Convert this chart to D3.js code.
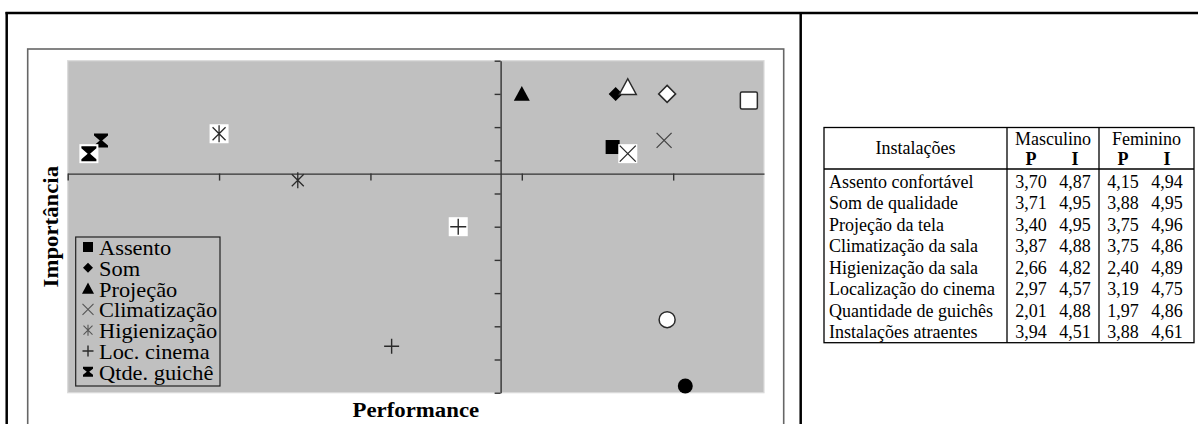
<!DOCTYPE html>
<html><head><meta charset="utf-8">
<script src="https://cdn.jsdelivr.net/npm/d3@7"></script>
<style>html,body{margin:0;padding:0;background:#fff;}svg{display:block;}</style>
</head><body>
<script>
// ---- data ----
const legendNames = ["Assento","Som","Projeção","Climatização","Higienização","Loc. cinema","Qtde. guichê"];
const tableLabels = ["Assento confortável","Som de qualidade","Projeção da tela","Climatização da sala","Higienização da sala","Localização do cinema","Quantidade de guichês","Instalações atraentes"];
const symbols = ["square","diamond","triangle","x","asterisk","plus","hourglass","circle"];
const mascP = [3.70,3.71,3.40,3.87,2.66,2.97,2.01,3.94];
const mascI = [4.87,4.95,4.95,4.88,4.82,4.57,4.88,4.51];
const femP  = [4.15,3.88,3.75,3.75,2.40,3.19,1.97,3.88];
const femI  = [4.94,4.95,4.96,4.86,4.89,4.75,4.86,4.61];
const xDomain = [1.9,4.2];
const yDomain = [4.5,5.0];
const xTicks = [1.9,2.4,2.9,3.4,3.9];
const yTicks = [4.5,4.55,4.6,4.65,4.7,4.75,4.8,4.85,4.9,4.95,5.0];
const crossP = 3.33, crossI = 4.83;
const groupNames = ["Masculino","Feminino"];
const subHeads = ["P","I"];

const W=1198,H=424;
const svg=d3.select("body").append("svg").attr("width",W).attr("height",H);
const SERIF="'Liberation Serif','Times New Roman',serif";

// outer frame
svg.append("line").attr("x1",5.5).attr("x2",W).attr("y1",13).attr("y2",13).attr("stroke","#000").attr("stroke-width",2.5);
svg.append("line").attr("x1",6.7).attr("x2",6.7).attr("y1",12).attr("y2",H).attr("stroke","#000").attr("stroke-width",2.5);
svg.append("line").attr("x1",800.7).attr("x2",800.7).attr("y1",12).attr("y2",H).attr("stroke","#000").attr("stroke-width",2.5);

// chart box
svg.append("rect").attr("x",27.7).attr("y",49).attr("width",756).attr("height",420)
  .attr("fill","#fff").attr("stroke","#666").attr("stroke-width",1.6);

const x=d3.scaleLinear().domain(xDomain).range([67.7,764]);
const y=d3.scaleLinear().domain(yDomain).range([392.7,60.7]);

svg.append("rect").attr("x",x(xDomain[0])).attr("y",y(yDomain[1]))
  .attr("width",x(xDomain[1])-x(xDomain[0])).attr("height",y(yDomain[0])-y(yDomain[1]))
  .attr("fill","#c0c0c0").attr("stroke","#dadada").attr("stroke-width",1.2);

const gy=svg.append("g").attr("transform",`translate(${x(crossP)},0)`)
  .call(d3.axisLeft(y).tickValues(yTicks).tickSize(6).tickSizeOuter(0).tickFormat(""));
const gx=svg.append("g").attr("transform",`translate(0,${y(crossI)})`)
  .call(d3.axisBottom(x).tickValues(xTicks).tickSize(7).tickSizeOuter(0).tickFormat(""));
[gx,gy].forEach(g=>{g.selectAll("path,line").attr("stroke","#333").attr("stroke-width",1.4);});

function symbol(g,type,filled,s){
  // s = half size
  const dark="#2a2a2a";
  const needsBg=["x","asterisk","plus","hourglass"].includes(type);
  if(needsBg && !filled){
    g.append("rect").attr("x",-s-1).attr("y",-s-1).attr("width",2*s+2).attr("height",2*s+2).attr("fill","#fff");
  }
  const fill=filled?"#000":"#fff";
  const stroke=filled?"none":dark;
  if(type==="square"){
    const h=filled?s-1:s;
    g.append("rect").attr("x",-h).attr("y",-h).attr("width",2*h).attr("height",2*h).attr("rx",filled?0:1.5)
      .attr("fill",fill).attr("stroke",stroke).attr("stroke-width",1.5);
  } else if(type==="diamond"){
    const h=filled?s-1:s;
    g.append("path").attr("d",`M0,${-h}L${h},0L0,${h}L${-h},0Z`).attr("fill",fill).attr("stroke",stroke).attr("stroke-width",1.5);
  } else if(type==="triangle"){
    g.append("path").attr("d",`M0,${-s}L${s},${s*0.85}L${-s},${s*0.85}Z`).attr("fill",fill).attr("stroke",stroke).attr("stroke-width",1.5);
  } else if(type==="circle"){
    g.append("circle").attr("r",s-0.5).attr("fill",fill).attr("stroke",stroke).attr("stroke-width",1.5);
  } else if(type==="x"){
    const h=s-0.5;
    g.append("path").attr("d",`M${-h},${-h}L${h},${h}M${h},${-h}L${-h},${h}`).attr("stroke",filled?"#444":dark).attr("stroke-width",1.3).attr("fill","none");
  } else if(type==="asterisk"){
    const h=s-2;
    g.append("path").attr("d",`M${-h},${-h}L${h},${h}M${h},${-h}L${-h},${h}M0,${-s}L0,${s}`).attr("stroke",dark).attr("stroke-width",1.3).attr("fill","none");
  } else if(type==="plus"){
    const h=s-0.5;
    g.append("path").attr("d",`M${-h},0L${h},0M0,${-h}L0,${h}`).attr("stroke",dark).attr("stroke-width",1.4).attr("fill","none");
  } else if(type==="hourglass"){
    const h=s-1;
    g.append("path").attr("d",`M${-h},${-h}H${h}V${-h+2}L1.2,0L${h},${h-2}V${h}H${-h}V${h-2}L-1.2,0L${-h},${-h+2}Z`).attr("fill","#000");
  }
}

// markers: masculino (filled) then feminino (white)
const marks=svg.append("g");
mascP.forEach((p,i)=>{ symbol(marks.append("g").attr("transform",`translate(${x(p)},${y(mascI[i])})`),symbols[i],true,8); });
femP.forEach((p,i)=>{ symbol(marks.append("g").attr("transform",`translate(${x(p)},${y(femI[i])})`),symbols[i],false,8.5); });

function sText(parent,str,tx,ty,o){
  const g=parent.append("g").attr("transform",`translate(${tx},${ty})${o.rotate?` rotate(${o.rotate})`:""} scale(${o.sx||1},1)`);
  return g.append("text").text(str).attr("font-family",SERIF).attr("font-size",o.size||20)
    .attr("font-weight",o.bold?"bold":"normal").attr("text-anchor",o.anchor||"start").attr("fill","#000");
}

// legend
const lg=svg.append("g");
lg.append("rect").attr("x",75.7).attr("y",237).attr("width",144.3).attr("height",149).attr("fill","none").attr("stroke","#222").attr("stroke-width",1.2);
legendNames.forEach((n,i)=>{
  const by=255+i*20.8;
  const sg=lg.append("g").attr("transform",`translate(88,${by-8})`);
  if(symbols[i]==="x"||symbols[i]==="asterisk"){
    const h=5.5;
    const d=symbols[i]==="x"?`M${-h},${-h}L${h},${h}M${h},${-h}L${-h},${h}`:`M${-h+1},${-h+1}L${h-1},${h-1}M${h-1},${-h+1}L${-h+1},${h-1}M0,${-h}L0,${h}`;
    sg.append("path").attr("d",d).attr("stroke","#555").attr("stroke-width",1.1).attr("fill","none");
  } else {
    symbol(sg,symbols[i],true,symbols[i]==="plus"?6:6);
  }
  sText(lg,n,99,by,{size:20,sx:1.12});
});

// axis titles
sText(svg,"Performance",(x(xDomain[0])+x(xDomain[1]))/2,417,{size:20,bold:true,anchor:"middle",sx:1.14});
sText(svg,"Importância",58,(y(yDomain[0])+y(yDomain[1]))/2,{size:20,bold:true,anchor:"middle",sx:1.14,rotate:-90});

// table
const T={l:824,s1:1007,s2:1099,r:1194,top:127.5,hsep:169,bot:342.7};
const tb=svg.append("g");
tb.append("rect").attr("x",T.l).attr("y",T.top).attr("width",T.r-T.l).attr("height",T.bot-T.top).attr("fill","none").attr("stroke","#000").attr("stroke-width",1.3);
[T.s1,T.s2].forEach(sx=>tb.append("line").attr("x1",sx).attr("x2",sx).attr("y1",T.top).attr("y2",T.bot).attr("stroke","#000").attr("stroke-width",1.3));
tb.append("line").attr("x1",T.l).attr("x2",T.r).attr("y1",T.hsep).attr("y2",T.hsep).attr("stroke","#000").attr("stroke-width",1.3);
const tt=(str,tx,ty,anchor,bold)=>tb.append("text").text(str).attr("x",tx).attr("y",ty).attr("font-family",SERIF).attr("font-size",18).attr("text-anchor",anchor).attr("font-weight",bold?"bold":"normal");
tt("Instalações",(T.l+T.s1)/2,154,"middle");
const gl=[T.s1,T.s2], gr=[T.s2,T.r];
groupNames.forEach((gname,gi)=>{
  tt(gname,(gl[gi]+gr[gi])/2,145,"middle");
  subHeads.forEach((sh,si)=>tt(sh,gl[gi]+24+si*44,165,"middle",true));
});
const fmt=v=>v.toFixed(2).replace(".",",");
tableLabels.forEach((lab,i)=>{
  const by=187.5+i*21.5;
  tt(lab,T.l+5,by,"start");
  tt(fmt(mascP[i]),T.s1+24,by,"middle");
  tt(fmt(mascI[i]),T.s1+68,by,"middle");
  tt(fmt(femP[i]),T.s2+24,by,"middle");
  tt(fmt(femI[i]),T.s2+68,by,"middle");
});
</script>
</body></html>
